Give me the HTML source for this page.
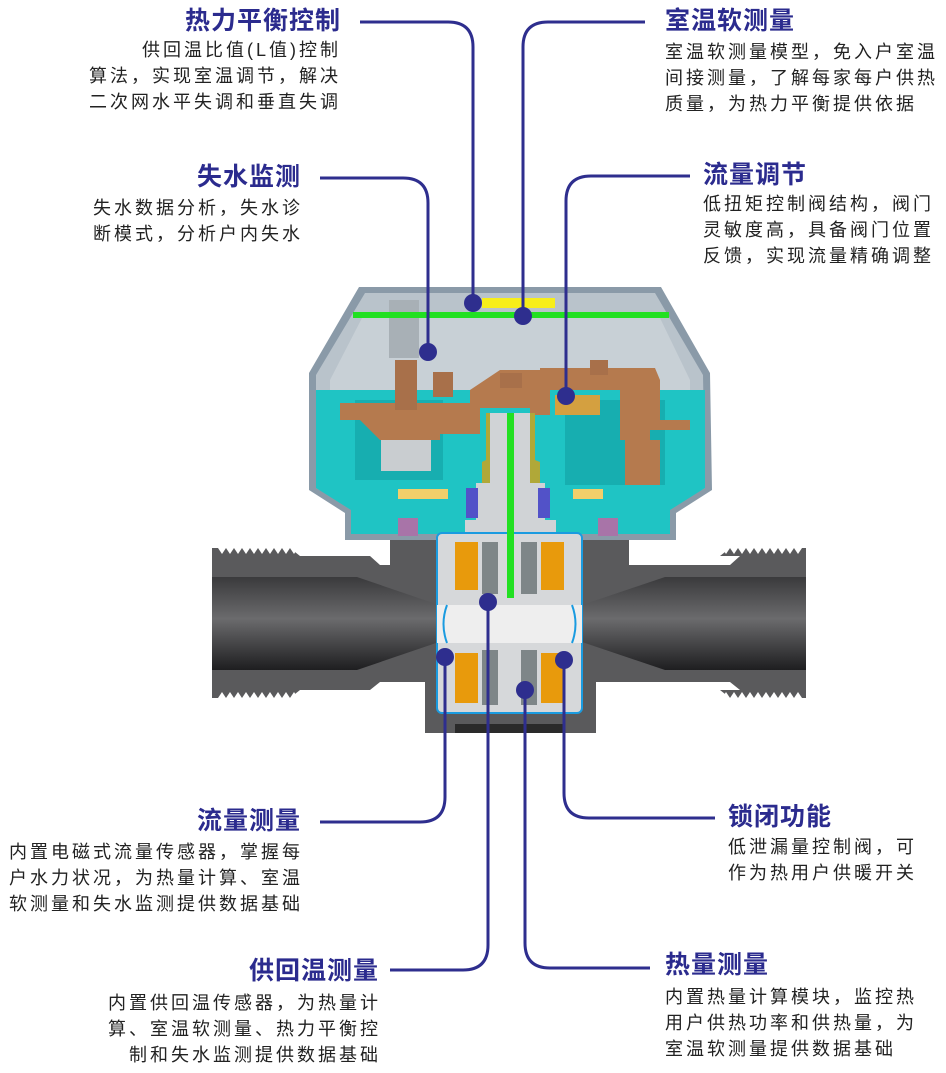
<!DOCTYPE html>
<html><head><meta charset="utf-8"><style>
html,body{margin:0;padding:0;background:#fff;}
body{width:946px;height:1073px;position:relative;overflow:hidden;font-family:"Liberation Sans","Noto Sans CJK SC",sans-serif;}
.t{position:absolute;color:#2b2b8e;font-weight:bold;font-size:25px;line-height:28px;white-space:nowrap;letter-spacing:1px;}
.b{position:absolute;color:#222;font-size:18px;line-height:26px;white-space:nowrap;letter-spacing:3px;}
.r{text-align:right;}
.r.b{margin-right:-3px;}
svg{position:absolute;left:0;top:0;}
</style></head><body>
<svg width="946" height="1073" viewBox="0 0 946 1073">
<!-- pipe -->
<path d="M212 548 L290 548 L300 556 L370 556 L380 565 L390 565 L390 540 L629 540 L629 565 L730 565 L740 556 L720 556 L730 548 L806 548 L806 698 L730 698 L720 690 L740 690 L730 682 L596 682 L596 733 L425 733 L425 682 L380 682 L370 690 L300 690 L290 698 L212 698 Z" fill="#5a5a5c"/>
<g fill="#ffffff">
<path d="M218 548 l4 6 l4 -6 l4 6 l4 -6 l4 6 l4 -6 l4 6 l4 -6 l4 6 l4 -6 l4 6 l4 -6 l4 6 l4 -6 l4 6 l4 -6 l4 6 l4 -6 l4 6 l4 -6 Z"/>
<path d="M218 698 l4 -6 l4 6 l4 -6 l4 6 l4 -6 l4 6 l4 -6 l4 6 l4 -6 l4 6 l4 -6 l4 6 l4 -6 l4 6 l4 -6 l4 6 l4 -6 l4 6 l4 -6 l4 6 Z"/>
<path d="M722 548 l4 6 l4 -6 l4 6 l4 -6 l4 6 l4 -6 l4 6 l4 -6 l4 6 l4 -6 l4 6 l4 -6 l4 6 l4 -6 l4 6 l4 -6 l4 6 l4 -6 l4 6 l4 -6 Z"/>
<path d="M722 698 l4 -6 l4 6 l4 -6 l4 6 l4 -6 l4 6 l4 -6 l4 6 l4 -6 l4 6 l4 -6 l4 6 l4 -6 l4 6 l4 -6 l4 6 l4 -6 l4 6 l4 -6 l4 6 Z"/>
</g>
<linearGradient id="bore" x1="0" y1="0" x2="0" y2="1"><stop offset="0" stop-color="#3a3a3c"/><stop offset="0.45" stop-color="#6b6b6d"/><stop offset="1" stop-color="#1e1e20"/></linearGradient>
<path d="M212 577 L357 577 L439 605 L582 605 L665 577 L806 577 L806 670 L665 670 L582 642 L439 642 L357 670 L212 670 Z" fill="url(#bore)"/>
<rect x="455" y="724" width="110" height="9" fill="#2a2a2a"/>
<!-- cap -->
<path d="M359 287 L661 287 L710 373 L712 490 L676 513 L676 540 L345 540 L345 513 L309 490 L309 373 Z" fill="#8a9aa8"/>
<path d="M365 293 L655 293 L703 375 L705 488 L670 508 L670 534 L351 534 L351 508 L316 488 L316 375 Z" fill="#b9c3cb"/>
<path d="M362 318 L660 318 L690 380 L690 400 L330 400 L330 380 Z" fill="#c8d0d6"/>
<!-- teal body -->
<path d="M316 390 L705 390 L705 488 L670 510 L670 534 L351 534 L351 510 L316 488 Z" fill="#1fc4c4"/>
<rect x="355" y="400" width="88" height="80" fill="#17aeb0"/>
<rect x="565" y="400" width="100" height="85" fill="#17aeb0"/>
<rect x="381" y="426" width="50" height="45" fill="#c9cdd0"/>
<!-- brown mechanics -->
<path d="M340 403 L470 403 L470 390 L500 370 L540 370 L540 368 L655 368 L660 380 L660 420 L690 420 L690 430 L650 430 L650 440 L620 440 L620 390 L550 390 L550 415 L530 415 L530 408 L480 408 L480 434 L440 434 L440 440 L380 440 L360 420 L340 420 Z" fill="#b57a4e"/>
<rect x="395" y="360" width="22" height="50" fill="#a8704a"/>
<rect x="433" y="372" width="20" height="25" fill="#a8704a"/>
<rect x="500" y="373" width="22" height="15" fill="#a8704a"/>
<rect x="590" y="360" width="18" height="15" fill="#a8704a"/>
<rect x="555" y="395" width="45" height="20" fill="#d4a040"/>
<rect x="625" y="440" width="35" height="45" fill="#b57a4e"/>
<rect x="389" y="300" width="30" height="58" fill="#a8b0b6"/>
<rect x="398" y="489" width="50" height="10" fill="#f2cf6a"/>
<rect x="573" y="489" width="30" height="10" fill="#f2cf6a"/>
<rect x="353" y="312" width="316" height="6" fill="#22e022"/>
<rect x="482" y="298" width="73" height="10" fill="#f7ee1a"/>
<!-- shaft -->
<path d="M486 413 L535 413 L535 460 L540 462 L540 483 L482 483 L482 462 L486 460 Z" fill="#b0a838"/>
<path d="M490 413 L530 413 L530 483 L545 483 L545 520 L556 520 L556 533 L465 533 L465 520 L476 520 L476 483 L490 483 Z" fill="#d0d3d6"/>
<rect x="466" y="488" width="12" height="30" fill="#5252c8"/>
<rect x="538" y="488" width="12" height="30" fill="#5252c8"/>
<rect x="398" y="518" width="20" height="18" fill="#a874a8"/>
<rect x="598" y="518" width="20" height="18" fill="#a874a8"/>
<!-- center insert -->
<rect x="437" y="533" width="145" height="180" rx="5" fill="#d6d8da" stroke="#1a9be0" stroke-width="2"/>
<rect x="437" y="605" width="145" height="38" fill="#eeeeee"/>
<path d="M447 605 Q440 624 447 643" stroke="#1a9be0" stroke-width="2" fill="none"/>
<path d="M572 605 Q579 624 572 643" stroke="#1a9be0" stroke-width="2" fill="none"/>
<rect x="455" y="542" width="23" height="48" fill="#e89a0c"/>
<rect x="541" y="542" width="23" height="48" fill="#e89a0c"/>
<rect x="482" y="542" width="16" height="52" fill="#7e8688"/>
<rect x="521" y="542" width="16" height="52" fill="#7e8688"/>
<rect x="455" y="653" width="23" height="50" fill="#e89a0c"/>
<rect x="541" y="653" width="23" height="50" fill="#e89a0c"/>
<rect x="482" y="650" width="16" height="55" fill="#7e8688"/>
<rect x="521" y="650" width="16" height="55" fill="#7e8688"/>
<rect x="507" y="413" width="7" height="185" fill="#22e022"/>
<!-- connectors -->
<g stroke="#2e2e8e" stroke-width="3" fill="none">
<path d="M360 22 L448 22 Q473 22 473 47 L473 303"/>
<path d="M645 22 L548 22 Q523 22 523 47 L523 316"/>
<path d="M320 178 L403 178 Q428 178 428 203 L428 352"/>
<path d="M690 176 L591 176 Q566 176 566 201 L566 396"/>
<path d="M320 822 L420 822 Q445 822 445 797 L445 657"/>
<path d="M390 970 L463 970 Q488 970 488 945 L488 602"/>
<path d="M715 818 L589 818 Q564 818 564 793 L564 660"/>
<path d="M650 968 L550 968 Q525 968 525 943 L525 690"/>
</g>
<g fill="#2e2e8e">
<circle cx="473" cy="303" r="9"/><circle cx="523" cy="316" r="9"/>
<circle cx="428" cy="352" r="9"/><circle cx="566" cy="396" r="9"/>
<circle cx="488" cy="602" r="9"/><circle cx="445" cy="657" r="9"/>
<circle cx="564" cy="660" r="9"/><circle cx="525" cy="690" r="9"/>
</g>
</svg>
<div class="t r" style="right:605px;top:7px">热力平衡控制</div>
<div class="b r" style="right:608px;top:37px">供回温比值(L值)控制<br>算法，实现室温调节，解决<br>二次网水平失调和垂直失调</div>
<div class="t r" style="right:645px;top:163px">失水监测</div>
<div class="b r" style="right:646px;top:195px">失水数据分析，失水诊<br>断模式，分析户内失水</div>
<div class="t r" style="right:645px;top:807px">流量测量</div>
<div class="b r" style="right:646px;top:839px">内置电磁式流量传感器，掌握每<br>户水力状况，为热量计算、室温<br>软测量和失水监测提供数据基础</div>
<div class="t r" style="right:567px;top:957px">供回温测量</div>
<div class="b r" style="right:568px;top:990px">内置供回温传感器，为热量计<br>算、室温软测量、热力平衡控<br>制和失水监测提供数据基础</div>
<div class="t" style="left:665px;top:7px">室温软测量</div>
<div class="b" style="left:665px;top:39px">室温软测量模型，免入户室温<br>间接测量，了解每家每户供热<br>质量，为热力平衡提供依据</div>
<div class="t" style="left:703px;top:161px">流量调节</div>
<div class="b" style="left:703px;top:191px">低扭矩控制阀结构，阀门<br>灵敏度高，具备阀门位置<br>反馈，实现流量精确调整</div>
<div class="t" style="left:728px;top:803px">锁闭功能</div>
<div class="b" style="left:728px;top:834px">低泄漏量控制阀，可<br>作为热用户供暖开关</div>
<div class="t" style="left:665px;top:951px">热量测量</div>
<div class="b" style="left:665px;top:984px">内置热量计算模块，监控热<br>用户供热功率和供热量，为<br>室温软测量提供数据基础</div>
</body></html>
